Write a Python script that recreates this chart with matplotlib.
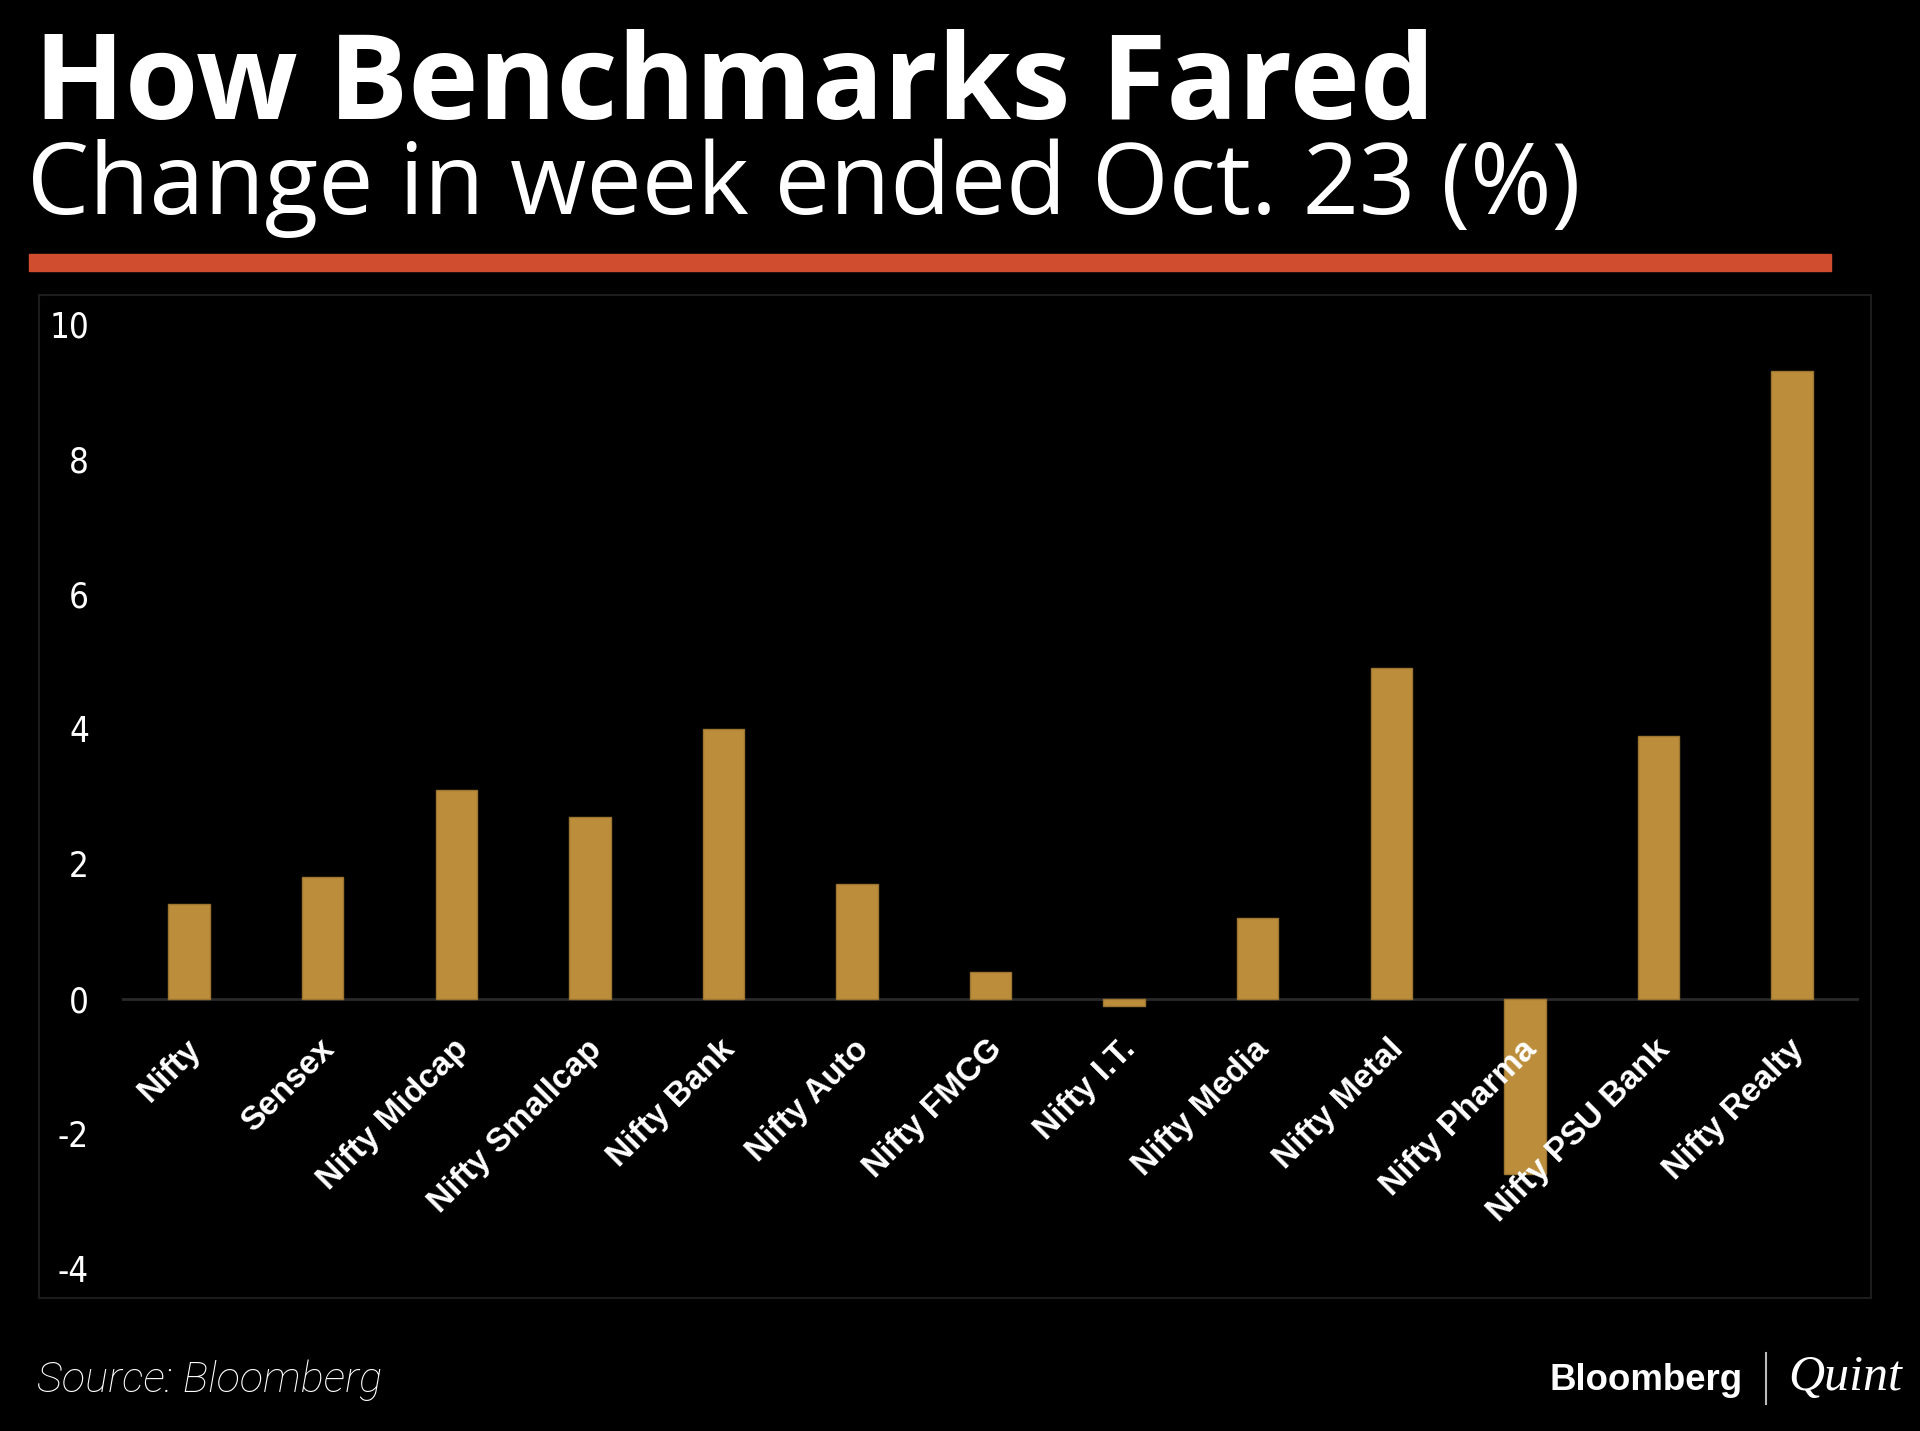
import matplotlib
matplotlib.use("Agg")
import matplotlib.pyplot as plt
from matplotlib.patches import Rectangle
from matplotlib.lines import Line2D
from matplotlib.transforms import offset_copy

# data (weekly change, %)
categories = ["Nifty", "Sensex", "Nifty Midcap", "Nifty Smallcap", "Nifty Bank",
              "Nifty Auto", "Nifty FMCG", "Nifty I.T.", "Nifty Media",
              "Nifty Metal", "Nifty Pharma", "Nifty PSU Bank", "Nifty Realty"]
change_pct = [1.4, 1.8, 3.1, 2.7, 4.0, 1.7, 0.4, -0.1, 1.2, 4.9, -2.6, 3.9, 9.3]
y_ticks = [10, 8, 6, 4, 2, 0, -2, -4]

plt.rcParams['axes.unicode_minus'] = False

W, H = 1920, 1431
fig = plt.figure(figsize=(W / 100, H / 100), dpi=100, facecolor='black')


def px(x, y):
    # pixel position (from top-left) -> figure fraction
    return x / W, 1 - y / H


def fit_text(x, y, s, target_w, **kw):
    t = fig.text(*px(x, y), s, **kw)
    r = fig.canvas.get_renderer()
    w = t.get_window_extent(r).width
    t.set_fontsize(t.get_fontsize() * target_w / w)
    return t


# header
fit_text(34, 119, "How Benchmarks Fared", 1401, color='white',
         family='Open Sans', weight='bold', fontsize=80, va='baseline')
fit_text(27, 214, "Change in week ended Oct. 23 (%)", 1555, color='white',
         family='Open Sans', fontsize=60, va='baseline')
fig.patches.append(Rectangle(px(29, 271), 1802 / W, 17 / H, transform=fig.transFigure,
                             color='#D04E2F'))

# chart frame
fig.patches.append(Rectangle(px(39, 1298), (1871 - 39) / W, (1298 - 295) / H,
                             transform=fig.transFigure, fill=False,
                             ec='#1c1c1c', lw=1.5))

ax = fig.add_axes([122.4 / W, 162 / H, 1736.4 / W, 945.4 / H])
ax.set_facecolor('none')
ax.set_xlim(-0.5, len(categories) - 0.5)
ax.set_ylim(-4, 10)
for s in ax.spines.values():
    s.set_visible(False)
ax.set_xticks([])
ax.set_yticks(y_ticks)
ax.tick_params(axis='y', length=0, pad=24, labelcolor='white', labelsize=25)
for lbl in ax.get_yticklabels():
    lbl.set_family('DejaVu Sans')
    lbl.set_fontstretch('condensed')

ax.axhline(0, color='#2a2a2a', lw=2, zorder=2)
ax.bar(range(len(categories)), change_pct, width=0.31, color='#BC8E3C',
       edgecolor='#9c7530', lw=1, zorder=3)

lab_tr = offset_copy(ax.transData, fig=fig, x=-4, y=-35, units='dots')
for i, c in enumerate(categories):
    ax.text(i, 0, c, transform=lab_tr, rotation=45, rotation_mode='anchor',
            ha='right', va='top', color='white', fontsize=24,
            family='Liberation Sans', weight='bold', zorder=4)

# footer
fit_text(37, 1392, "Source: Bloomberg", 345, color='white', family='Roboto',
         weight='light', style='italic', fontsize=30, va='baseline')
fit_text(1549, 1390, "Bloomberg", 193, color='white', family='Liberation Sans',
         weight='bold', fontsize=30, va='baseline')
fig.lines.append(Line2D([1766 / W, 1766 / W], [1 - 1353 / H, 1 - 1404 / H],
                        transform=fig.transFigure, color='#bbbbbb', lw=1.5))
fit_text(1788, 1390, "Quint", 114, color='white', family='Liberation Serif',
         style='italic', fontsize=30, va='baseline')

fig.savefig("out.png", dpi=100, facecolor='black')
